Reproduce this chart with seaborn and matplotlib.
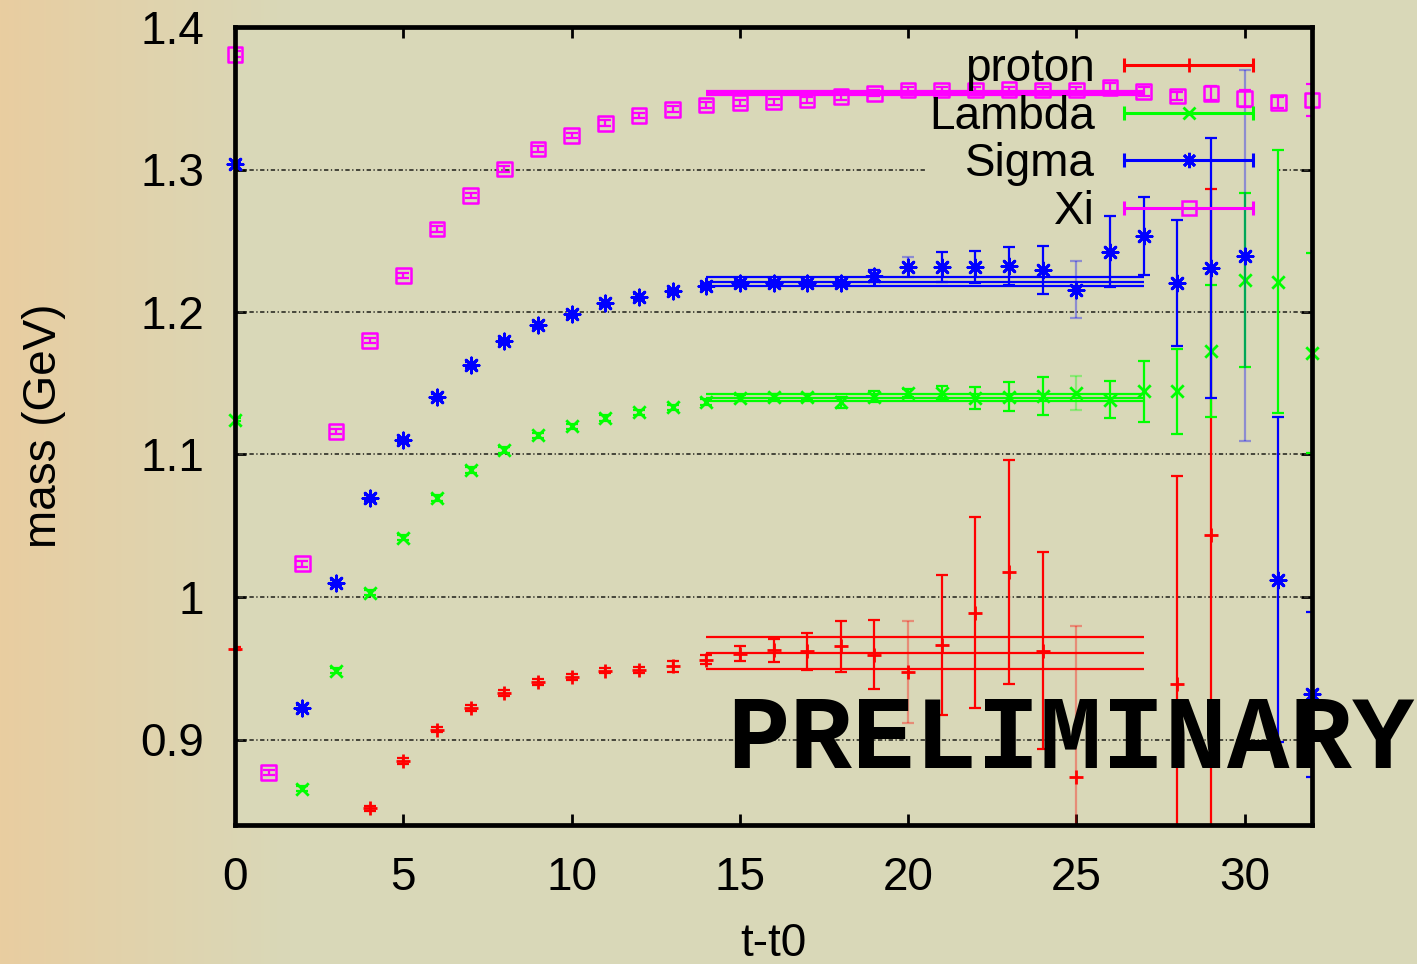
import numpy as np
import pandas as pd
import matplotlib
matplotlib.use("Agg")
import matplotlib.pyplot as plt
from matplotlib.lines import Line2D
from matplotlib.legend_handler import HandlerBase
from matplotlib.ticker import FuncFormatter
import seaborn as sns

nan = np.nan

# time separations t - t0
t = np.arange(0, 33)

# effective masses (GeV) and their errors for each baryon
proton_mass = [0.9638, nan, nan, nan, 0.8516, 0.8848, 0.9070, 0.9222, 0.9327, 0.9405,
               0.9440, 0.9484, 0.9486, 0.9514, 0.9561, 0.9603, 0.9626, 0.9619, 0.9654, 0.9596,
               0.9475, 0.9661, 0.9889, 1.0173, 0.9624, 0.8736, nan, nan, 0.9386, 1.0433,
               nan, nan, nan]
proton_err = [0.001, nan, nan, nan, 0.002, 0.002, 0.002, 0.002, 0.002, 0.002,
              0.002, 0.002, 0.002, 0.004, 0.003, 0.005, 0.008, 0.013, 0.018, 0.024,
              0.036, 0.049, 0.067, 0.0785, 0.069, 0.106, nan, nan, 0.146, 0.243,
              nan, nan, nan]

lambda_mass = [1.1244, nan, 0.8656, 0.9484, 1.0031, 1.0417, 1.0697, 1.0889, 1.1034, 1.1134,
               1.1197, 1.1256, 1.1295, 1.1330, 1.1370, 1.1396, 1.1407, 1.1407, 1.1365, 1.1407,
               1.1431, 1.1431, 1.1396, 1.1407, 1.1410, 1.1431, 1.1384, 1.1443, 1.1443, 1.1726,
               1.2226, 1.2214, 1.1712]
lambda_err = [0.001, nan, 0.002, 0.002, 0.002, 0.002, 0.002, 0.002, 0.002, 0.002,
              0.002, 0.002, 0.002, 0.002, 0.002, 0.002, 0.002, 0.002, 0.004, 0.004,
              0.003, 0.005, 0.008, 0.010, 0.0135, 0.012, 0.013, 0.0216, 0.030, 0.046,
              0.061, 0.092, 0.070]

sigma_mass = [1.3039, nan, 0.9224, 1.0101, 1.0697, 1.1099, 1.1407, 1.1630, 1.1793, 1.1910,
              1.1987, 1.2062, 1.2105, 1.2144, 1.2179, 1.2203, 1.2203, 1.2203, 1.2203, 1.2254,
              1.2319, 1.2319, 1.2315, 1.2324, 1.2296, 1.2156, 1.2424, 1.2534, 1.2203, 1.2308,
              1.2395, 1.0122, 0.9316]
sigma_err = [0.001, nan, 0.002, 0.002, 0.002, 0.002, 0.002, 0.002, 0.002, 0.002,
             0.002, 0.002, 0.002, 0.002, 0.002, 0.002, 0.002, 0.002, 0.002, 0.004,
             0.007, 0.0105, 0.011, 0.0135, 0.017, 0.020, 0.025, 0.0275, 0.044, 0.091,
             0.130, 0.114, 0.058]

xi_mass = [1.3809, 0.8769, 1.0234, 1.1162, 1.1800, 1.2256, 1.2581, 1.2817, 1.3002, 1.3144,
           1.3238, 1.3324, 1.3378, 1.3423, 1.3453, 1.3469, 1.3476, 1.3488, 1.3511, 1.3535,
           1.3558, 1.3558, 1.3558, 1.3560, 1.3558, 1.3558, 1.3577, 1.3547, 1.3516, 1.3535,
           1.3500, 1.3469, 1.3488]
xi_err = [0.002, 0.002, 0.002, 0.002, 0.002, 0.002, 0.002, 0.002, 0.002, 0.002,
          0.002, 0.002, 0.002, 0.002, 0.002, 0.002, 0.002, 0.002, 0.002, 0.002,
          0.002, 0.002, 0.002, 0.002, 0.002, 0.002, 0.003, 0.003, 0.003, 0.005,
          0.006, 0.004, 0.011]

# plateau fits: central value, error, fit window
fit_center = [0.9608, 1.1398, 1.2213, 1.3535]
fit_error = [0.0112, 0.0025, 0.0030, 0.0015]
fit_window = [14, 27]

labels = ["proton", "Lambda", "Sigma", "Xi"]
colors = ["#ff0000", "#00ff00", "#0000ff", "#ff00ff"]
# time slices whose error bars are drawn washed out
faded_slices = [[20, 25], [25], [20, 25, 30], []]

x_ticks = [0, 5, 10, 15, 20, 25, 30]
y_ticks = [0.9, 1.0, 1.1, 1.2, 1.3, 1.4]

masses = [proton_mass, lambda_mass, sigma_mass, xi_mass]
errors = [proton_err, lambda_err, sigma_err, xi_err]

sns.set_theme(style="ticks")
plt.rcParams["font.family"] = ["Liberation Sans", "DejaVu Sans"]
plt.rcParams["text.color"] = "black"
plt.rcParams["axes.labelcolor"] = "black"

FS = 33

W, H = 1417, 964
fig = plt.figure(figsize=(W / 100, H / 100), dpi=100)

# warm horizontal wash behind everything
bg = fig.add_axes([0, 0, 1, 1], zorder=-10)
px = np.arange(W)
w = np.clip(px / 290.0, 0, 1) ** 0.9
warm = np.array([233, 205, 160]) / 255.0
cool = np.array([217, 216, 184]) / 255.0
grad = warm[None, :] * (1 - w[:, None]) + cool[None, :] * w[:, None]
bg.imshow(grad[None, :, :], aspect="auto", extent=[0, 1, 0, 1])
bg.set_axis_off()

ax = fig.add_axes([235 / W, 1 - 825 / H, (1312 - 235) / W, (825 - 27) / H])
ax.set_facecolor("#d9d8b8")
ax.set_xlim(0, 32)
ax.set_ylim(0.84, 1.4)

marker_kw = [
    dict(marker="+", s=110, linewidth=2.0),
    dict(marker="x", s=80, linewidth=2.0),
    dict(marker=(8, 2, 0), s=120, linewidth=2.0),
    dict(marker="s", s=110, linewidth=1.8, facecolor="none"),
]

for i, (m, e, c) in enumerate(zip(masses, errors, colors)):
    m = np.asarray(m, float)
    e = np.asarray(e, float)
    faded = np.isin(t, faded_slices[i])
    for sel, alpha in ((~faded, 1.0), (faded, 0.35)):
        if sel.any():
            ax.errorbar(t[sel], m[sel], yerr=e[sel], fmt="none", ecolor=c, alpha=alpha,
                        elinewidth=1.6, capsize=4.5, capthick=1.6, zorder=3 + i)
    df = pd.DataFrame({"t": t, "mass": m}).dropna()
    kw = dict(marker_kw[i])
    sns.scatterplot(data=df, x="t", y="mass", color=c, edgecolor=c, ax=ax,
                    legend=False, clip_on=False, zorder=3.5 + i, **kw)
    # plateau fit band
    lo, hi = fit_window
    for off in (-fit_error[i], 0.0, fit_error[i]):
        ax.hlines(fit_center[i] + off, lo, hi, colors=c, linewidth=1.6, zorder=3.2 + i)

ax.set_xticks(x_ticks)
ax.set_yticks(y_ticks)
ax.yaxis.set_major_formatter(FuncFormatter(lambda v, p: f"{v:g}"))
ax.tick_params(axis="both", direction="in", length=8, width=2, top=True, right=True,
               labelsize=FS, colors="black")
ax.tick_params(axis="x", pad=22)
ax.tick_params(axis="y", pad=22)
for sp in ax.spines.values():
    sp.set_visible(True)
    sp.set_color("black")
    sp.set_linewidth(3.4)
    sp.set_zorder(30)

ax.set_xlabel("t-t0", fontsize=FS)
ax.set_ylabel("mass (GeV)", fontsize=FS)
ax.xaxis.set_label_coords(0.5, -0.122)
ax.yaxis.set_label_coords(-0.157, 0.5)


class KeySample(HandlerBase):
    """Horizontal error-bar sample with end caps and the point symbol in the middle."""

    def create_artists(self, legend, orig_handle, xdescent, ydescent, width, height,
                       fontsize, trans):
        c = orig_handle.get_color()
        y = height / 2 - ydescent
        x0, x1 = -xdescent, width - xdescent
        bar = Line2D([x0, x1], [y, y], color=c, lw=2.2)
        caps = Line2D([x0, x1], [y, y], ls="none", marker="|", ms=10, mew=2.2, color=c)
        mid = Line2D([(x0 + x1) / 2], [y], ls="none", marker=orig_handle.get_marker(),
                     ms=orig_handle.get_markersize(), mew=orig_handle.get_markeredgewidth(),
                     mfc=orig_handle.get_markerfacecolor(), mec=c)
        for a in (bar, caps, mid):
            a.set_transform(trans)
        return [bar, caps, mid]


handles = [
    Line2D([], [], color=colors[0], marker="+", ms=10, mew=2),
    Line2D([], [], color=colors[1], marker="x", ms=9, mew=2),
    Line2D([], [], color=colors[2], marker=(8, 2, 0), ms=11, mew=2),
    Line2D([], [], color=colors[3], marker="s", ms=10, mew=1.8, mfc="none"),
]
leg = ax.legend(handles, labels, handler_map={Line2D: KeySample()}, loc="upper right",
                bbox_to_anchor=(0.945, 0.975), frameon=False, markerfirst=False,
                handlelength=2.8, handletextpad=0.65, labelspacing=0.08, borderpad=0,
                borderaxespad=0, fontsize=FS)
leg.set_zorder(15)

# dash-dot grid, left open where the key sits
fig.canvas.draw()
bb = leg.get_window_extent()
inv = ax.transData.inverted()
(kx0, ky0) = inv.transform((bb.x0 - 3, bb.y0))
(kx1, ky1) = inv.transform((bb.x1 + 26, bb.y1))
grid_style = dict(colors="#3a3a30", linewidth=1.3, linestyles=(0, (0.7, 1.4, 2.4, 1.4)),
                  zorder=1)
for yv in y_ticks[:-1]:
    if ky0 <= yv <= ky1:
        ax.hlines(yv, 0, kx0, **grid_style)
        ax.hlines(yv, kx1, 32, **grid_style)
    else:
        ax.hlines(yv, 0, 32, **grid_style)

ax.text(0.457, 0.0714, "PRELIMINARY", transform=ax.transAxes, fontfamily="Liberation Mono",
        fontweight="bold", fontsize=75, va="baseline", ha="left", color="black",
        clip_on=False, zorder=40)

fig.savefig("out.png", dpi=100, facecolor=fig.get_facecolor())
